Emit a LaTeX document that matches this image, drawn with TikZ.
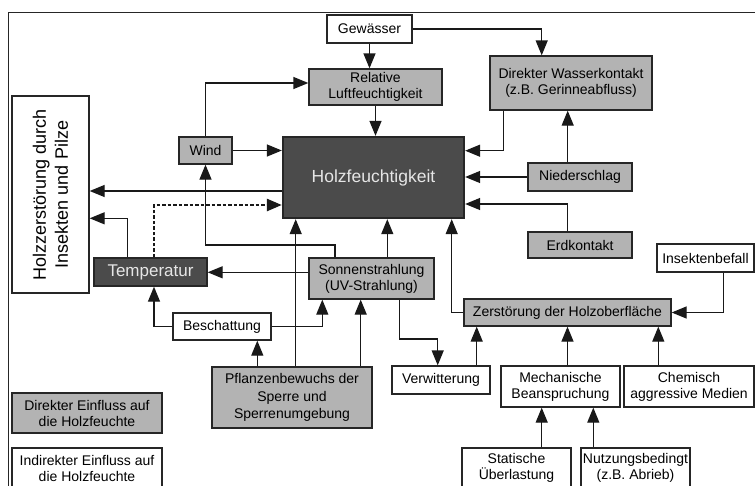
\documentclass[tikz,border=0pt]{standalone}
\usepackage{fontspec}
\setmainfont{Liberation Sans}
\usetikzlibrary{arrows.meta}
\definecolor{boxgray}{HTML}{B3B3B3}
\definecolor{boxdark}{HTML}{4B4B4B}
\definecolor{lighttext}{HTML}{E6E6E6}
\begin{document}
\begin{tikzpicture}[x=1pt,y=-1pt,
  box/.style={draw=black!85, line width=1.3pt, inner sep=0pt, align=center,
    font=\fontsize{14}{16}\selectfont},
  gbox/.style={box, fill=boxgray},
  wbox/.style={box, fill=white},
  dbox/.style={box, fill=boxdark, text=lighttext},
  arr/.style={line width=1.3pt, draw=black!90, -{Triangle[length=15pt,width=12pt]}},
  dotarr/.style={arr, line width=2.6pt, dash pattern=on 3.5pt off 2pt},
]
\useasboundingbox (0,0) rectangle (755,485);
% frame
\draw[line width=1pt, black!85] (8,487) -- (8,12) -- (757,12);

% nodes
\node[wbox, minimum width=85pt, minimum height=28pt] (gew) at (369.5,29) {Gewässer};
\node[gbox, minimum width=133pt, minimum height=36pt] (rel) at (375.5,87) {Relative\\Luftfeuchtigkeit};
\node[gbox, minimum width=162pt, minimum height=54pt] (dwk) at (571,83) {Direkter Wasserkontakt\\(z.B. Gerinneabfluss)};
\node[gbox, minimum width=53pt, minimum height=27pt] (wind) at (205.5,150.5) {Wind};
\node[dbox, line width=2.3pt, minimum width=181pt, minimum height=81pt,
  font=\fontsize{17.5}{20}\selectfont] (holz) at (373.5,177.5) {Holzfeuchtigkeit};
\node[gbox, minimum width=104pt, minimum height=28pt] (nied) at (580,177) {Niederschlag};
\node[wbox, minimum width=77pt, minimum height=197pt] (hzi) at (50.5,194.5) {};
\node[rotate=90, align=center, font=\fontsize{18}{22}\selectfont] (hzit) at (hzi) {Holzzerstörung durch\\Insekten und Pilze};
\node[gbox, minimum width=104pt, minimum height=26pt] (erd) at (580,245) {Erdkontakt};
\node[dbox, minimum width=113pt, minimum height=28pt,
  font=\fontsize{17}{20}\selectfont] (temp) at (150.5,272) {Temperatur};
\node[gbox, minimum width=125pt, minimum height=41pt] (sonne) at (371.5,278.5) {Sonnenstrahlung\\(UV-Strahlung)};
\node[wbox, minimum width=97pt, minimum height=28pt] (insekt) at (705.5,258) {Insektenbefall};
\node[gbox, minimum width=207pt, minimum height=27pt] (zerst) at (567.5,312.5) {Zerstörung der Holzoberfläche};
\node[wbox, minimum width=98pt, minimum height=27pt] (besch) at (222,326.5) {Beschattung};
\node[wbox, minimum width=98pt, minimum height=28pt] (verw) at (441,380) {Verwitterung};
\node[wbox, minimum width=119pt, minimum height=41pt] (mech) at (560.5,386.5) {Mechanische\\Beanspruchung};
\node[wbox, minimum width=130pt, minimum height=41pt] (chem) at (689,386.5) {Chemisch\\aggressive Medien};
\node[gbox, minimum width=160pt, minimum height=61pt, font=\fontsize{14}{17.5}\selectfont] (pfl) at (292,397.5) {Pflanzenbewuchs der\\Sperre und\\Sperrenumgebung};
\node[gbox, minimum width=150pt, minimum height=40pt] (ldir) at (87,413) {Direkter Einfluss auf\\die Holzfeuchte};
\node[wbox, minimum width=150pt, minimum height=40pt] (lind) at (87,468) {Indirekter Einfluss auf\\die Holzfeuchte};
\node[wbox, minimum width=109pt, minimum height=40pt] (stat) at (516.5,468) {Statische\\Überlastung};
\node[wbox, minimum width=109pt, minimum height=40pt] (nutz) at (635.5,468) {Nutzungsbedingt\\(z.B. Abrieb)};

% helper coordinates
\coordinate (vt) at ([xshift=-3.3pt]verw.north);

% connectors
\draw[arr] (gew.south) -- (gew.south |- rel.north);
\draw[arr] (gew.east) -| ([xshift=-29.3pt]dwk.north);
\draw[arr] (rel.south) -- (rel.south |- holz.north);
\draw[arr] (wind.north) |- ([yshift=4pt]rel.west);
\draw[arr] (wind.east) -- (wind.east -| holz.west);
\draw[arr] ([yshift=-13.5pt]holz.west) -- ([yshift=-13.5pt]holz.west -| hzi.east);
\draw[dotarr] ([xshift=3.5pt]temp.north) |- ([yshift=-27.5pt]holz.west);
\draw[arr] ([xshift=-22.8pt]temp.north) |- ([yshift=-23.8pt]hzi.east);
\draw[arr] ([xshift=-36.5pt]sonne.north) |- (wind.south |- 0,245) -- (wind.south);
\draw[arr] ([xshift=15.8pt]sonne.north) -- ([xshift=15.8pt]sonne.north |- holz.south);
\draw[arr] ([yshift=6.2pt]sonne.west) -- ([yshift=6.2pt]sonne.west -| temp.east);
\draw[arr] ([xshift=27.8pt]sonne.south) |- (vt |- 0,339) -- (vt);
\draw[arr] ([xshift=35.7pt]verw.north) -- ([xshift=35.7pt]verw.north |- zerst.south);
\draw[arr] (zerst.south |- mech.north) -- (zerst.south);
\draw[arr] ([xshift=-30.7pt]chem.north) -- ([xshift=-30.7pt]chem.north |- zerst.south);
\draw[arr] ([xshift=17.8pt]insekt.south) |- (zerst.east);
\draw[arr] (zerst.west) -| ([xshift=78.2pt]holz.south);
\draw[arr] ([xshift=25.2pt]stat.north) -- ([xshift=25.2pt]stat.north |- mech.south);
\draw[arr] ([xshift=-42.2pt]nutz.north) -- ([xshift=-42.2pt]nutz.north |- mech.south);
\draw[arr] ([xshift=-34.7pt]pfl.north) -- ([xshift=-34.7pt]pfl.north |- besch.south);
\draw[arr] ([xshift=3.7pt]pfl.north) -- ([xshift=3.7pt]pfl.north |- holz.south);
\draw[arr] ([xshift=68.7pt]pfl.north) -- ([xshift=68.7pt]pfl.north |- sonne.south);
\draw[arr] (besch.west) -| ([xshift=3.5pt]temp.south);
\draw[arr] (besch.east) -| ([xshift=-49.2pt]sonne.south);
\draw[arr] ([xshift=-67.7pt]dwk.south) |- ([yshift=26.8pt]holz.east);
\draw[arr] ([xshift=-12.3pt]nied.north) -- ([xshift=-12.3pt]nied.north |- dwk.south);
\draw[arr] (nied.west) -- (nied.west -| holz.east);
\draw[arr] ([xshift=-12.3pt]erd.north) |- ([yshift=-26.5pt]holz.east);
\end{tikzpicture}
\end{document}
